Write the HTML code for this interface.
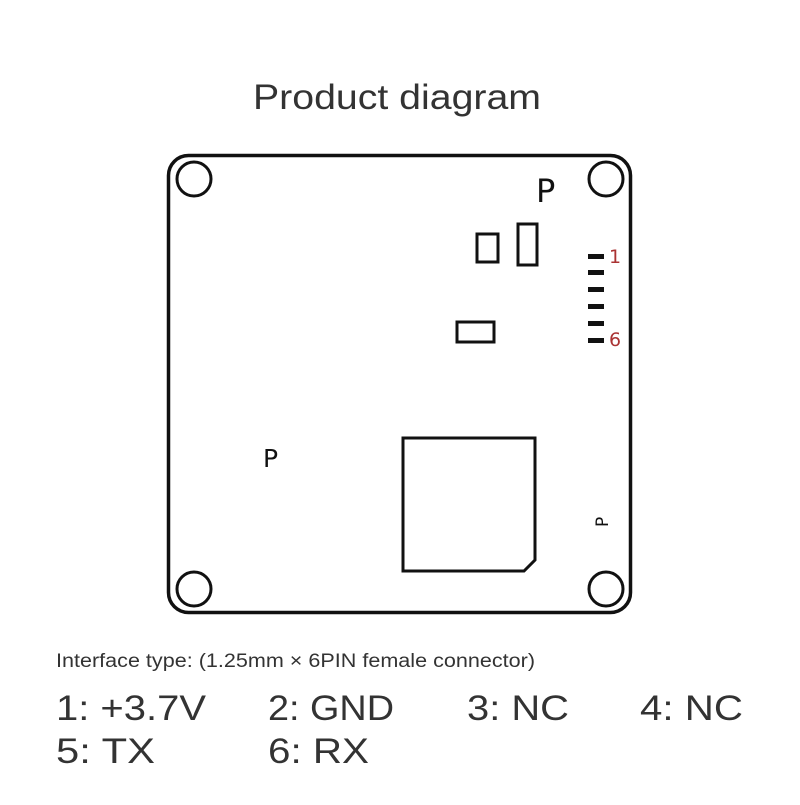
<!DOCTYPE html>
<html><head><meta charset="utf-8"><style>
body{margin:0;background:#fff;width:800px;height:800px;overflow:hidden;font-family:"Liberation Sans",sans-serif;}
</style></head><body>
<svg width="800" height="800" viewBox="0 0 800 800" xmlns="http://www.w3.org/2000/svg">
<text x="253" y="109" font-family="Liberation Sans, sans-serif" font-size="35" fill="#333" textLength="288" lengthAdjust="spacingAndGlyphs">Product diagram</text>
<rect x="168.5" y="155.5" width="462" height="457" rx="20" fill="none" stroke="#111" stroke-width="3.5"/>
<g fill="none" stroke="#111" stroke-width="3">
<circle cx="194" cy="179" r="17"/>
<circle cx="606" cy="179" r="17"/>
<circle cx="194" cy="589" r="17"/>
<circle cx="606" cy="589" r="17"/>
<rect x="477" y="234" width="21" height="28"/>
<rect x="518" y="224" width="19" height="41"/>
<rect x="457" y="322" width="37" height="20"/>
<path d="M403 438 H535 V560 L524 571 H403 Z"/>
</g>
<g fill="#111">
<rect x="588" y="254" width="16" height="5"/>
<rect x="588" y="270" width="16" height="5"/>
<rect x="588" y="287" width="16" height="5"/>
<rect x="588" y="304" width="16" height="5"/>
<rect x="588" y="321" width="16" height="5"/>
<rect x="588" y="338" width="16" height="5"/>
</g>
<text x="609" y="263" font-size="19" fill="#a33" font-family="DejaVu Sans, sans-serif">1</text>
<text x="609" y="346" font-size="19" fill="#a33" font-family="DejaVu Sans, sans-serif">6</text>
<text x="536" y="202" font-size="32" fill="#111" font-family="DejaVu Sans, sans-serif">P</text>
<text x="263" y="467" font-size="25" fill="#111" font-family="DejaVu Sans, sans-serif">P</text>
<text x="0" y="0" font-size="17" fill="#111" font-family="DejaVu Sans, sans-serif" transform="translate(608,527) rotate(-90)">P</text>
<text x="56" y="667" font-size="19" fill="#333" textLength="479" lengthAdjust="spacingAndGlyphs">Interface type: (1.25mm × 6PIN female connector)</text>
<g font-size="35" fill="#333" lengthAdjust="spacingAndGlyphs">
<text x="56" y="720" textLength="150" lengthAdjust="spacingAndGlyphs">1:  +3.7V</text>
<text x="268" y="720" textLength="126" lengthAdjust="spacingAndGlyphs">2:  GND</text>
<text x="467" y="720" textLength="102" lengthAdjust="spacingAndGlyphs">3:  NC</text>
<text x="640" y="720" textLength="103" lengthAdjust="spacingAndGlyphs">4:  NC</text>
<text x="56" y="763" textLength="99" lengthAdjust="spacingAndGlyphs">5:  TX</text>
<text x="268" y="763" textLength="101" lengthAdjust="spacingAndGlyphs">6:  RX</text>
</g>
</svg>
</body></html>
